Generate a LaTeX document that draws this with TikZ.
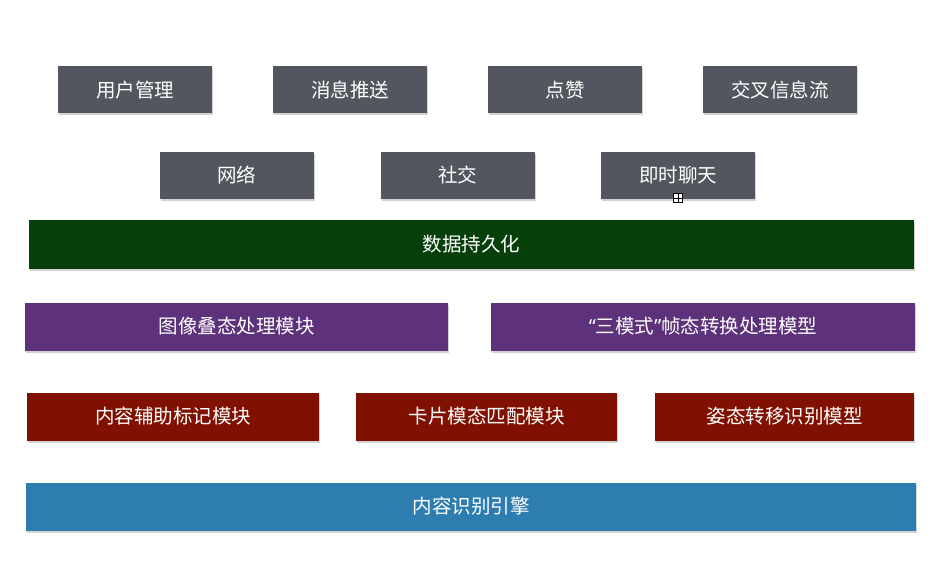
\documentclass[tikz,border=0pt]{standalone}
\usepackage{fontspec}
\setmainfont{Noto Sans CJK SC}
\newfontfamily\latinfont{Noto Sans}
\usetikzlibrary{shadows}

\definecolor{appgray}{HTML}{53565E}
\definecolor{storegreen}{HTML}{073F0B}
\definecolor{procpurple}{HTML}{5E317B}
\definecolor{modred}{HTML}{801100}
\definecolor{engblue}{HTML}{2E7DB0}

\begin{document}
\begin{tikzpicture}[
  x=1pt, y=-1pt,
  blk/.style={text=white, inner sep=0pt, minimum height=47pt,
    font=\fontsize{19.5}{22}\selectfont,
    drop shadow={shadow xshift=1pt, shadow yshift=-2pt, opacity=0.35, fill=gray}},
  app/.style={blk, fill=appgray, minimum width=154pt},
  wide/.style={blk, minimum height=49pt}
]
\useasboundingbox (0,0) rectangle (942,567);

% top row
\node [app] (yhgl) at (135,90) {用户管理};
\node [app] (xxts) at (350,90) {消息推送};
\node [app] (dz)   at (565,90) {点赞};
\node [app] (jcxx) at (780,90) {交叉信息流};

% second row
\node [app] (wl)   at (236.5,175) {网络};
\node [app] (sj)   at (457.5,175) {社交};
\node [app] (jslt) at (678,175) {即时聊天};

\node [draw, fill=white, minimum size=9pt, inner sep=0pt,
  path picture={\draw (path picture bounding box.north) -- (path picture bounding box.south)
    (path picture bounding box.west) -- (path picture bounding box.east);}] (handle) at (678,198) {};

% storage
\node [wide, fill=storegreen, minimum width=885pt] (sjcjh) at (471.5,244) {数据持久化};

% processing
\node [wide, fill=procpurple, minimum width=423pt, minimum height=48pt] (txdt) at (236.5,326.5) {图像叠态处理模块};
\node [wide, fill=procpurple, minimum width=424pt, minimum height=48pt] (smsz) at (703,326.5) {{\latinfont “}三模式{\latinfont ”}帧态转换处理模型};

% modules
\node [wide, fill=modred, minimum width=292pt, minimum height=48pt] (nrfz) at (173,416.5) {内容辅助标记模块};
\node [wide, fill=modred, minimum width=261pt, minimum height=48pt] (kpmt) at (486.5,416.5) {卡片模态匹配模块};
\node [wide, fill=modred, minimum width=259pt, minimum height=48pt] (ztzy) at (784.5,416.5) {姿态转移识别模型};

% engine
\node [wide, fill=engblue, minimum width=890pt, minimum height=48pt] (nrsb) at (471,506.5) {内容识别引擎};
\end{tikzpicture}
\end{document}
